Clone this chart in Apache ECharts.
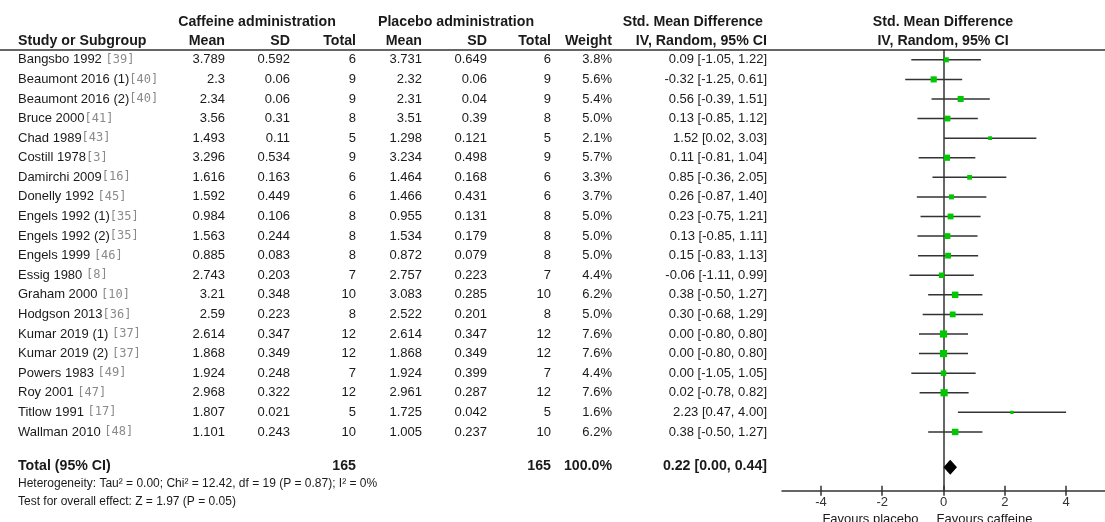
<!DOCTYPE html>
<html><head><meta charset="utf-8">
<script src="https://cdn.jsdelivr.net/npm/echarts@6/dist/echarts.min.js"></script>
<style>html,body{margin:0;padding:0;background:#fff}#c{width:1105px;height:522px}</style>
</head><body><div id="c"></div>
<script>
const studies = ['Bangsbo 1992 ','Beaumont 2016 (1)','Beaumont 2016 (2)','Bruce 2000','Chad 1989','Costill 1978','Damirchi 2009','Donelly 1992 ','Engels 1992 (1)','Engels 1992 (2)','Engels 1999 ','Essig 1980 ','Graham 2000 ','Hodgson 2013','Kumar 2019 (1) ','Kumar 2019 (2) ','Powers 1983 ','Roy 2001 ','Titlow 1991 ','Wallman 2010 '];
const refs = ['[39]','[40]','[40]','[41]','[43]','[3]','[16]','[45]','[35]','[35]','[46]','[8]','[10]','[36]','[37]','[37]','[49]','[47]','[17]','[48]'];
const cafMean = ['3.789','2.3','2.34','3.56','1.493','3.296','1.616','1.592','0.984','1.563','0.885','2.743','3.21','2.59','2.614','1.868','1.924','2.968','1.807','1.101'];
const cafSD = ['0.592','0.06','0.06','0.31','0.11','0.534','0.163','0.449','0.106','0.244','0.083','0.203','0.348','0.223','0.347','0.349','0.248','0.322','0.021','0.243'];
const cafN = [6,9,9,8,5,9,6,6,8,8,8,7,10,8,12,12,7,12,5,10];
const plMean = ['3.731','2.32','2.31','3.51','1.298','3.234','1.464','1.466','0.955','1.534','0.872','2.757','3.083','2.522','2.614','1.868','1.924','2.961','1.725','1.005'];
const plSD = ['0.649','0.06','0.04','0.39','0.121','0.498','0.168','0.431','0.131','0.179','0.079','0.223','0.285','0.201','0.347','0.349','0.399','0.287','0.042','0.237'];
const plN = [6,9,9,8,5,9,6,6,8,8,8,7,10,8,12,12,7,12,5,10];
const weight = [3.8,5.6,5.4,5.0,2.1,5.7,3.3,3.7,5.0,5.0,5.0,4.4,6.2,5.0,7.6,7.6,4.4,7.6,1.6,6.2];
const smd = [0.09,-0.32,0.56,0.13,1.52,0.11,0.85,0.26,0.23,0.13,0.15,-0.06,0.38,0.30,0.00,0.00,0.00,0.02,2.23,0.38];
const ciLow = [-1.05,-1.25,-0.39,-0.85,0.02,-0.81,-0.36,-0.87,-0.75,-0.85,-0.83,-1.11,-0.50,-0.68,-0.80,-0.80,-1.05,-0.78,0.47,-0.50];
const ciHigh = [1.22,0.61,1.51,1.12,3.03,1.04,2.05,1.40,1.21,1.11,1.13,0.99,1.27,1.29,0.80,0.80,1.05,0.82,4.00,1.27];
const totalLabel = 'Total (95% CI)';
const totalN = [165, 165];
const totalWeight = 100.0;
const totalEffect = [0.22, 0.00, 0.44];
const xTicks = [-4, -2, 0, 2, 4];
const heterogeneity = 'Heterogeneity: Tau² = 0.00; Chi² = 12.42, df = 19 (P = 0.87); I² = 0%';
const overallTest = 'Test for overall effect: Z = 1.97 (P = 0.05)';
const favours = ['Favours placebo', 'Favours caffeine'];

const TOTAL_ROW = 20.8;
const FONT = '"Liberation Sans", Arial, sans-serif';
const MONO = '"DejaVu Sans Mono", monospace';
const TXT = '#1a1a1a';
const BOLD = 'bold 14.2px ' + FONT;
const chart = echarts.init(document.getElementById('c'));

chart.setOption({
  animation: false,
  grid: {left: 782, right: 0, top: 50, bottom: 31.3},
  xAxis: [{
    type: 'value', min: -5.27, max: 5.27, position: 'bottom',
    axisLine: {onZero: false, lineStyle: {color: '#333', width: 1.5}},
    axisTick: {show: true, inside: false, length: 5, customValues: xTicks, lineStyle: {color: '#333', width: 1.5}},
    axisLabel: {customValues: xTicks, margin: 5, color: '#333', fontFamily: FONT, fontSize: 13},
    splitLine: {show: false}
  }, {
    type: 'value', min: -5.27, max: 5.27, position: 'bottom', gridIndex: 0,
    axisLine: {show: false, onZero: false},
    axisTick: {show: true, inside: true, length: 5, customValues: xTicks, lineStyle: {color: '#333', width: 1.5}},
    axisLabel: {show: false},
    splitLine: {show: false}
  }],
  yAxis: {
    type: 'value', inverse: true, min: -0.5, max: 22,
    axisLine: {show: true, onZero: true, lineStyle: {color: '#333', width: 1.5}},
    axisTick: {show: false}, axisLabel: {show: false}, splitLine: {show: false}
  },
  series: [{
    type: 'custom', name: 'ci',
    data: studies.map((s, i) => [ciLow[i], ciHigh[i], i]),
    encode: {x: [0, 1], y: 2},
    renderItem: (params, api) => {
      const a = api.coord([api.value(0), api.value(2)]);
      const b = api.coord([api.value(1), api.value(2)]);
      return {type: 'line', shape: {x1: a[0], y1: a[1], x2: b[0], y2: b[1]}, style: {stroke: '#333', lineWidth: 1.5}};
    },
    z: 2
  }, {
    type: 'scatter', name: 'smd',
    data: studies.map((s, i) => [smd[i], i, weight[i]]),
    symbol: 'rect',
    symbolSize: v => 2.6 * Math.sqrt(v[2]),
    itemStyle: {color: '#00c800', opacity: 1},
    z: 3
  }, {
    type: 'custom', name: 'total',
    data: [[totalEffect[1], totalEffect[0], totalEffect[2], TOTAL_ROW]],
    encode: {x: [0, 1, 2], y: 3},
    renderItem: (params, api) => {
      const l = api.coord([api.value(0), api.value(3)]);
      const m = api.coord([api.value(1), api.value(3)]);
      const r = api.coord([api.value(2), api.value(3)]);
      const h = 7.5;
      return {type: 'polygon', shape: {points: [[l[0], l[1]], [m[0], m[1] - h], [r[0], r[1]], [m[0], m[1] + h]]}, style: {fill: '#000'}};
    },
    z: 3
  }]
});

const rowY = i => chart.convertToPixel({yAxisIndex: 0}, i);
const g = [];
function t(x, y, text, align, bold, extra) {
  g.push(Object.assign({type: 'text', x: x, y: y, silent: true,
    style: {text: text, align: align, verticalAlign: 'middle', fill: TXT,
      font: bold ? BOLD : '13px ' + FONT}}, extra || {}));
}
// header line
g.push({type: 'line', shape: {x1: 0, y1: 50, x2: 1105, y2: 50}, style: {stroke: '#333', lineWidth: 1.5}, silent: true});
// headers
const H1 = 22, H2 = 41;
t(257, H1, 'Caffeine administration', 'center', true);
t(456, H1, 'Placebo administration', 'center', true);
t(763, H1, 'Std. Mean Difference', 'right', true);
t(943, H1, 'Std. Mean Difference', 'center', true);
t(18, H2, 'Study or Subgroup', 'left', true);
t(225, H2, 'Mean', 'right', true);
t(290, H2, 'SD', 'right', true);
t(356, H2, 'Total', 'right', true);
t(422, H2, 'Mean', 'right', true);
t(487, H2, 'SD', 'right', true);
t(551, H2, 'Total', 'right', true);
t(612, H2, 'Weight', 'right', true);
t(767, H2, 'IV, Random, 95% CI', 'right', true);
t(943, H2, 'IV, Random, 95% CI', 'center', true);
// rows
studies.forEach((s, i) => {
  const y = rowY(i);
  g.push({type: 'text', x: 18, y: y, silent: true, style: {
    text: '{n|' + s + '}{r|' + refs[i] + '}', verticalAlign: 'middle', align: 'left',
    rich: {n: {fill: TXT, font: '13px ' + FONT}, r: {fill: '#8a8a8a', font: '12px ' + MONO}}}});
  t(225, y, cafMean[i], 'right');
  t(290, y, cafSD[i], 'right');
  t(356, y, String(cafN[i]), 'right');
  t(422, y, plMean[i], 'right');
  t(487, y, plSD[i], 'right');
  t(551, y, String(plN[i]), 'right');
  t(612, y, weight[i].toFixed(1) + '%', 'right');
  t(767, y, smd[i].toFixed(2) + ' [' + ciLow[i].toFixed(2) + ', ' + ciHigh[i].toFixed(2) + ']', 'right');
});
const ty = rowY(TOTAL_ROW) - 1;
t(18, ty, totalLabel, 'left', true);
t(356, ty, String(totalN[0]), 'right', true);
t(551, ty, String(totalN[1]), 'right', true);
t(612, ty, totalWeight.toFixed(1) + '%', 'right', true);
t(767, ty, totalEffect[0].toFixed(2) + ' [' + totalEffect[1].toFixed(2) + ', ' + totalEffect[2].toFixed(2) + ']', 'right', true);
g.push({type: 'text', x: 18, y: 484, silent: true, style: {text: heterogeneity, verticalAlign: 'middle', fill: TXT, font: '12px ' + FONT}});
g.push({type: 'text', x: 18, y: 502, silent: true, style: {text: overallTest, verticalAlign: 'middle', fill: TXT, font: '12px ' + FONT}});
const x0 = chart.convertToPixel({xAxisIndex: 0}, 0);
g.push({type: 'text', x: x0 - 25, y: 519, silent: true, style: {text: favours[0], align: 'right', verticalAlign: 'middle', fill: TXT, font: '13px ' + FONT}});
g.push({type: 'text', x: x0 - 7, y: 519, silent: true, style: {text: favours[1], align: 'left', verticalAlign: 'middle', fill: TXT, font: '13px ' + FONT}});
chart.setOption({graphic: g});
</script>
</body></html>
